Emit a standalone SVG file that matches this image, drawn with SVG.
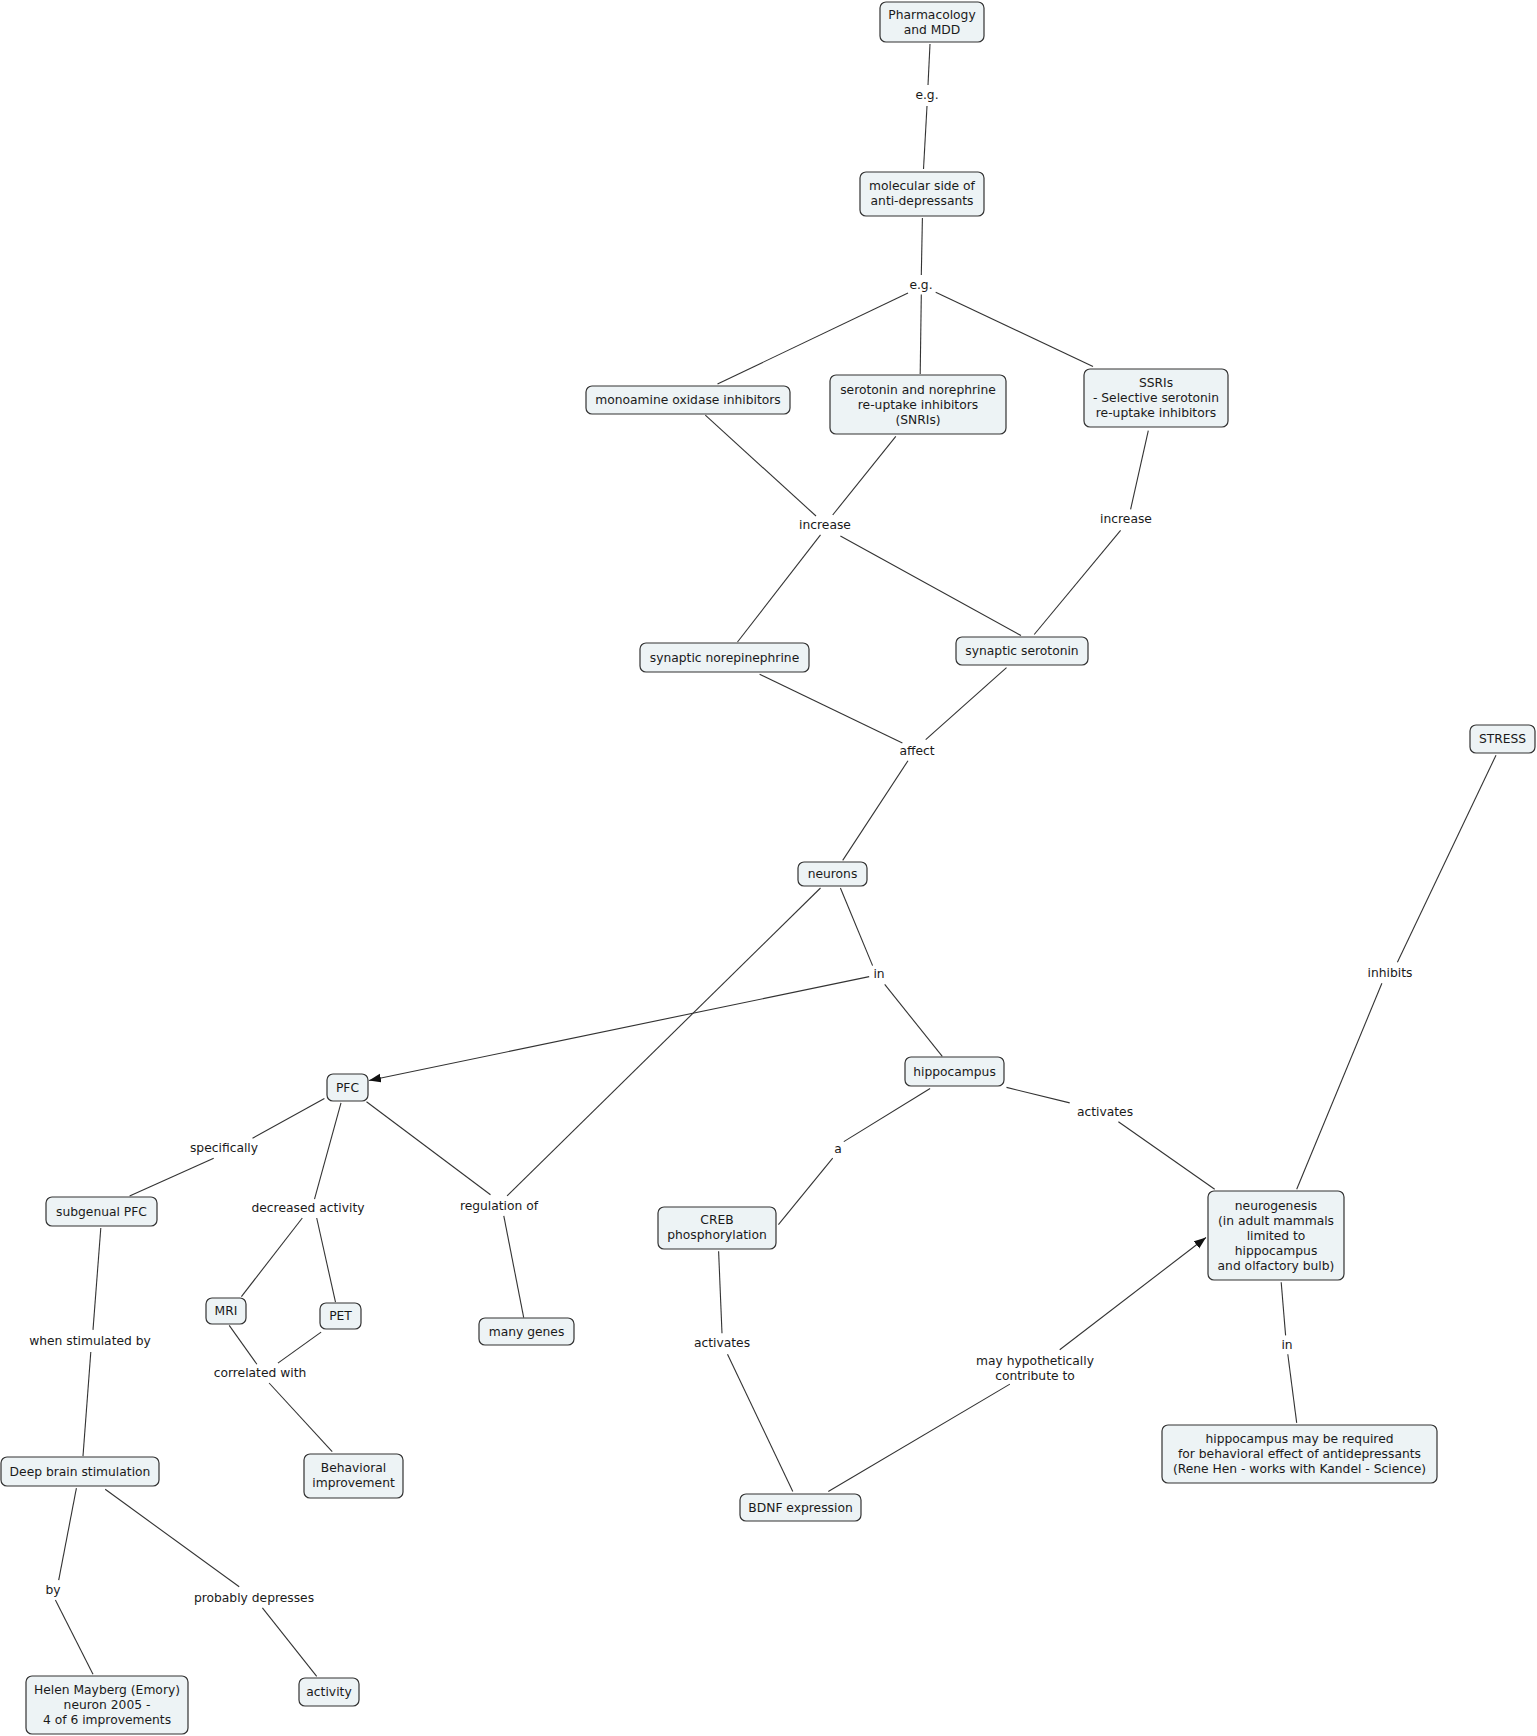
<svg xmlns="http://www.w3.org/2000/svg" width="1537" height="1736" viewBox="0 0 1537 1736">
<style>
.bg{fill:#ffffff}
.n rect{fill:#edf3f5;stroke:#333333;stroke-width:1.2}
text{font-family:"DejaVu Sans","Liberation Sans",sans-serif;font-size:12.3px;fill:#1a1a1a;text-anchor:middle}
#connectors line{stroke:#333333;stroke-width:1.1;fill:none}
</style>
<defs>
<marker id="arr" markerUnits="userSpaceOnUse" markerWidth="13" markerHeight="10" refX="12" refY="4.5" orient="auto">
<path d="M0,0 L12,4.5 L0,9 z" fill="#111111"/>
</marker>
</defs>
<rect class="bg" x="0" y="0" width="1537" height="1736"/>
<g id="connectors">
<line x1="930" y1="44" x2="928" y2="85"/>
<line x1="927" y1="106" x2="923.5" y2="169"/>
<line x1="922.4" y1="218" x2="921.3" y2="275"/>
<line x1="908" y1="293" x2="717.5" y2="384"/>
<line x1="921.3" y1="294.5" x2="920.2" y2="374"/>
<line x1="935.7" y1="292.3" x2="1093" y2="366.5"/>
<line x1="705.3" y1="415.2" x2="816" y2="516"/>
<line x1="895.8" y1="436.3" x2="832.7" y2="515"/>
<line x1="820.5" y1="534.8" x2="737.5" y2="642"/>
<line x1="840.4" y1="535.9" x2="1021" y2="635.6"/>
<line x1="1148.3" y1="430.7" x2="1130.6" y2="509.4"/>
<line x1="1120.6" y1="530.4" x2="1034.2" y2="634.5"/>
<line x1="759.6" y1="674.3" x2="902.4" y2="743"/>
<line x1="1006.5" y1="667.7" x2="925.7" y2="739.7"/>
<line x1="908" y1="760.7" x2="842.7" y2="860.4"/>
<line x1="840.4" y1="888" x2="872.6" y2="965.6"/>
<line x1="884.7" y1="984.4" x2="942.3" y2="1056.4"/>
<line x1="869.2" y1="976.6" x2="369" y2="1080.5" marker-end="url(#arr)"/>
<line x1="820.5" y1="888" x2="507.1" y2="1195.9"/>
<line x1="503.8" y1="1215.8" x2="523.7" y2="1317.7"/>
<line x1="366.5" y1="1101.8" x2="490.5" y2="1194.8"/>
<line x1="324.4" y1="1098.4" x2="252.5" y2="1138.3"/>
<line x1="213.7" y1="1158.2" x2="129.6" y2="1195.9"/>
<line x1="341" y1="1102.9" x2="314.5" y2="1199.2"/>
<line x1="302.3" y1="1218" x2="241.4" y2="1296.6"/>
<line x1="316.7" y1="1218" x2="335.5" y2="1302.2"/>
<line x1="229.2" y1="1325.4" x2="256.9" y2="1364.2"/>
<line x1="321.1" y1="1332.1" x2="277.9" y2="1363.1"/>
<line x1="269.1" y1="1383" x2="332.2" y2="1451.7"/>
<line x1="100.8" y1="1228" x2="93" y2="1329.9"/>
<line x1="90.8" y1="1352" x2="83" y2="1456.1"/>
<line x1="76.4" y1="1488.2" x2="58.7" y2="1580.1"/>
<line x1="55.4" y1="1600" x2="93" y2="1674.2"/>
<line x1="105.2" y1="1489.3" x2="239.2" y2="1586.8"/>
<line x1="262.4" y1="1607.8" x2="316.7" y2="1676.4"/>
<line x1="930.1" y1="1088.5" x2="843.8" y2="1141.6"/>
<line x1="832.7" y1="1158.2" x2="778.4" y2="1224.7"/>
<line x1="1006.5" y1="1087.4" x2="1069.7" y2="1102.9"/>
<line x1="1118.4" y1="1121.7" x2="1214.7" y2="1189.2"/>
<line x1="718.6" y1="1251.2" x2="722" y2="1333.2"/>
<line x1="727.5" y1="1354.2" x2="792.8" y2="1491.5"/>
<line x1="828.3" y1="1491.5" x2="1009.9" y2="1384.1"/>
<line x1="1059.7" y1="1349.8" x2="1206" y2="1237.5" marker-end="url(#arr)"/>
<line x1="1496" y1="755.2" x2="1397.4" y2="962.2"/>
<line x1="1381.9" y1="983.3" x2="1296.7" y2="1189.2"/>
<line x1="1281.2" y1="1282.3" x2="1285.6" y2="1335.4"/>
<line x1="1287.8" y1="1354.2" x2="1296.7" y2="1422.9"/>
</g>
<g id="labels">
<text x="927" y="99.4">e.g.</text>
<text x="921" y="289.4">e.g.</text>
<text x="825" y="529.4">increase</text>
<text x="1126" y="523.4">increase</text>
<text x="917" y="755.4">affect</text>
<text x="879" y="978.4">in</text>
<text x="1390" y="977.4">inhibits</text>
<text x="224" y="1152.4">specifically</text>
<text x="308" y="1212.4">decreased activity</text>
<text x="499" y="1210.4">regulation of</text>
<text x="838" y="1153.4">a</text>
<text x="1105" y="1116.4">activates</text>
<text x="722" y="1347.4">activates</text>
<text x="90" y="1345.4">when stimulated by</text>
<text x="260" y="1377.4">correlated with</text>
<text x="1035" y="1365.4">may hypothetically</text>
<text x="1035" y="1380.4">contribute to</text>
<text x="1287" y="1349.4">in</text>
<text x="53" y="1594.4">by</text>
<text x="254" y="1602.4">probably depresses</text>
</g>
<g id="n1" class="n"><rect x="880" y="2" width="104" height="40" rx="6"/><text x="932" y="19.4">Pharmacology</text><text x="932" y="34.4">and MDD</text></g>
<g id="n2" class="n"><rect x="860" y="172" width="124" height="44" rx="6"/><text x="922" y="190.4">molecular side of</text><text x="922" y="205.4">anti-depressants</text></g>
<g id="n3" class="n"><rect x="586" y="386" width="204" height="28" rx="6"/><text x="688" y="404.4">monoamine oxidase inhibitors</text></g>
<g id="n4" class="n"><rect x="830" y="375" width="176" height="59" rx="6"/><text x="918" y="393.9">serotonin and norephrine</text><text x="918" y="408.9">re-uptake inhibitors</text><text x="918" y="423.9">(SNRIs)</text></g>
<g id="n5" class="n"><rect x="1084" y="369" width="144" height="58" rx="6"/><text x="1156" y="387.4">SSRIs</text><text x="1156" y="402.4">- Selective serotonin</text><text x="1156" y="417.4">re-uptake inhibitors</text></g>
<g id="n6" class="n"><rect x="640" y="643" width="169" height="29" rx="6"/><text x="724.5" y="661.9">synaptic norepinephrine</text></g>
<g id="n7" class="n"><rect x="956" y="637" width="132" height="28" rx="6"/><text x="1022" y="655.4">synaptic serotonin</text></g>
<g id="n8" class="n"><rect x="1470" y="725" width="65" height="28" rx="6"/><text x="1502.5" y="743.4">STRESS</text></g>
<g id="n9" class="n"><rect x="798" y="862" width="69" height="24" rx="6"/><text x="832.5" y="878.4">neurons</text></g>
<g id="n10" class="n"><rect x="327" y="1074" width="41" height="27" rx="6"/><text x="347.5" y="1091.9">PFC</text></g>
<g id="n11" class="n"><rect x="905" y="1057" width="99" height="29" rx="6"/><text x="954.5" y="1075.9">hippocampus</text></g>
<g id="n12" class="n"><rect x="46" y="1197" width="111" height="29" rx="6"/><text x="101.5" y="1215.9">subgenual PFC</text></g>
<g id="n13" class="n"><rect x="658" y="1207" width="118" height="42" rx="6"/><text x="717" y="1224.4">CREB</text><text x="717" y="1239.4">phosphorylation</text></g>
<g id="n14" class="n"><rect x="1208" y="1191" width="136" height="89" rx="6"/><text x="1276" y="1209.9">neurogenesis</text><text x="1276" y="1224.9">(in adult mammals</text><text x="1276" y="1239.9">limited to</text><text x="1276" y="1254.9">hippocampus</text><text x="1276" y="1269.9">and olfactory bulb)</text></g>
<g id="n15" class="n"><rect x="206" y="1298" width="40" height="26" rx="6"/><text x="226" y="1315.4">MRI</text></g>
<g id="n16" class="n"><rect x="320" y="1303" width="41" height="26" rx="6"/><text x="340.5" y="1320.4">PET</text></g>
<g id="n17" class="n"><rect x="479" y="1318" width="95" height="27" rx="6"/><text x="526.5" y="1335.9">many genes</text></g>
<g id="n18" class="n"><rect x="1162" y="1425" width="275" height="58" rx="6"/><text x="1299.5" y="1443.4">hippocampus may be required</text><text x="1299.5" y="1458.4">for behavioral effect of antidepressants</text><text x="1299.5" y="1473.4">(Rene Hen - works with Kandel - Science)</text></g>
<g id="n19" class="n"><rect x="1" y="1457" width="158" height="29" rx="6"/><text x="80" y="1475.9">Deep brain stimulation</text></g>
<g id="n20" class="n"><rect x="304" y="1454" width="99" height="44" rx="6"/><text x="353.5" y="1472.4">Behavioral</text><text x="353.5" y="1487.4">improvement</text></g>
<g id="n21" class="n"><rect x="740" y="1494" width="121" height="27" rx="6"/><text x="800.5" y="1511.9">BDNF expression</text></g>
<g id="n22" class="n"><rect x="26" y="1676" width="162" height="58" rx="6"/><text x="107" y="1694.4">Helen Mayberg (Emory)</text><text x="107" y="1709.4">neuron 2005 -</text><text x="107" y="1724.4">4 of 6 improvements</text></g>
<g id="n23" class="n"><rect x="299" y="1678" width="60" height="28" rx="6"/><text x="329" y="1696.4">activity</text></g>
</svg>
